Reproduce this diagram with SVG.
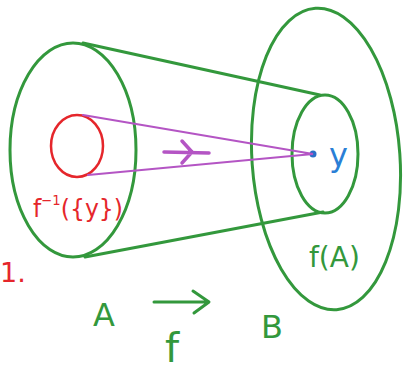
<svg xmlns="http://www.w3.org/2000/svg" width="403" height="371" viewBox="0 0 403 371">
<style>
.g{fill:none;stroke:#33983c;stroke-width:3;stroke-linecap:round;stroke-linejoin:round}
.p{fill:none;stroke:#b455c4;stroke-width:2;stroke-linecap:round}
.tg{fill:#33983c;font-family:"DejaVu Sans",sans-serif}
.tr{fill:#e5262b;font-family:"DejaVu Sans",sans-serif}
.tb{fill:#2a7fd6;font-family:"DejaVu Sans",sans-serif}
</style>
<rect width="403" height="371" fill="#fff"/>
<g id="setA">
<ellipse class="g" cx="73" cy="150" rx="63" ry="107"/>
<text class="tg" x="93" y="326" font-size="32">A</text>
</g>
<g id="setB">
<ellipse class="g" cx="326" cy="159" rx="74" ry="151" transform="rotate(-4 326 159)"/>
<text class="tg" x="261" y="338" font-size="32">B</text>
</g>
<g id="imageA">
<ellipse class="g" cx="325" cy="154" rx="33" ry="59"/>
<text class="tg" x="309" y="267" font-size="28">f(A)</text>
</g>
<g id="preimage">
<ellipse fill="none" stroke="#e5262b" stroke-width="2.5" cx="77" cy="146" rx="26" ry="31"/>
<text class="tr" x="33" y="217" font-size="25" textLength="90" lengthAdjust="spacingAndGlyphs">f<tspan font-size="14" dy="-12">−1</tspan><tspan dy="12">({y})</tspan></text>
</g>
<g id="pointY">
<circle cx="313" cy="154" r="3.5" fill="#2a6fc8"/>
<text class="tb" x="329" y="166" font-size="32">y</text>
</g>
<g id="connectors">
<path class="g" d="M83 43 L320 95"/>
<path class="g" d="M85 257 L323 212"/>
<path class="p" d="M83 115 L313 154 L88 175"/>
<path fill="none" stroke="#b455c4" stroke-width="3.5" stroke-linecap="round" stroke-linejoin="round" d="M164 152 L209 153 M182 141 L192 152 L182 163"/>
<path class="g" stroke-width="4" d="M154 302 L208 302 M193 291 L209 302 L194 313"/>
<text class="tg" x="165" y="362" font-size="40">f</text>
</g>
<text class="tr" x="0" y="282" font-size="27">1.</text>
</svg>
